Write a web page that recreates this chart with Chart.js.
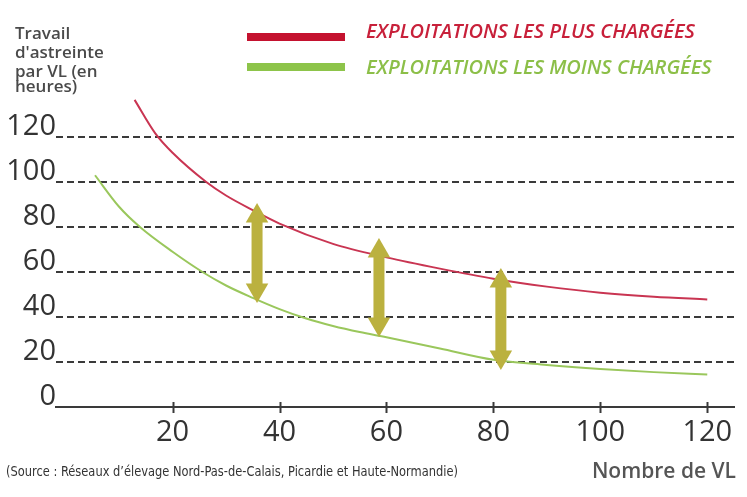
<!DOCTYPE html>
<html lang="fr">
<head>
<meta charset="UTF-8">
<title>Travail d'astreinte par VL</title>
<script src="https://cdn.jsdelivr.net/npm/chart.js"></script>
<style>
  html, body { margin: 0; padding: 0; background: #fff; }
  #wrap { width: 747px; height: 497px; }
</style>
</head>
<body>
<div id="wrap"><canvas id="graph"></canvas></div>
<script>
// courbes (x = nombre de VL, y = heures par VL)
const plusX  = [12.9, 16.8, 20, 26.3, 30, 35, 40, 50, 60, 70, 80, 90, 100, 110, 120];
const plusY  = [136.5, 121.5, 113, 100, 94, 87.5, 81.5, 72.5, 66.5, 61.5, 57, 53.5, 50.8, 49, 47.8];
const moinsX = [5.5, 10, 13.9, 20, 25.6, 30, 35, 40, 45, 50, 55, 60, 70, 80, 90, 100, 110, 120];
const moinsY = [103, 89, 80, 69, 60, 54, 48.5, 43.5, 39.3, 36, 33.3, 31, 26, 21, 18.7, 16.9, 15.5, 14.4];

// fleches doubles (ecart entre les deux groupes)
const flecheX    = [35.8, 58.6, 81.4];
const flecheHaut = [84.9, 69.3, 56];
const flecheBas  = [52, 36.9, 22.2];

const xTicks = [20, 40, 60, 80, 100, 120];
const yTicks = [0, 20, 40, 60, 80, 100, 120];

const labelPlus  = 'EXPLOITATIONS LES PLUS CHARGÉES';
const labelMoins = 'EXPLOITATIONS LES MOINS CHARGÉES';
const titreY = ['Travail', "d'astreinte", 'par VL (en', 'heures)'];
const titreX = 'Nombre de VL';
const source = '(Source : Réseaux d’élevage Nord-Pas-de-Calais, Picardie et Haute-Normandie)';

const rouge = '#c93552';
const vert = '#9ac75c';
const kaki = '#bbb13f';

function pts(xs, ys) {
  return xs.map((x, i) => ({ x: x, y: ys[i] }));
}

let datasets = [
  { label: labelPlus, data: pts(plusX, plusY), borderColor: rouge, borderWidth: 2,
    showLine: true, pointRadius: 0, cubicInterpolationMode: 'monotone', order: 1 },
  { label: labelMoins, data: pts(moinsX, moinsY), borderColor: vert, borderWidth: 2,
    showLine: true, pointRadius: 0, cubicInterpolationMode: 'monotone', order: 1 }
];
flecheX.forEach((x, i) => {
  datasets.push({
    label: 'fleche' + i,
    data: [{ x: x, y: flecheHaut[i] }, { x: x, y: flecheBas[i] }],
    showLine: true,
    borderColor: kaki,
    borderWidth: 11,
    borderCapStyle: 'butt',
    pointStyle: 'triangle',
    pointRadius: 13,
    pointRotation: [0, 180],
    pointBackgroundColor: kaki,
    pointBorderWidth: 0,
    order: 0
  });
});

// legende, titres, graduations
const decor = {
  id: 'decor',
  afterDraw(chart) {
    const c = chart.ctx;
    const xs = chart.scales.x, ys = chart.scales.y;
    c.save();
    // petits traits de graduation qui croisent l'axe
    c.strokeStyle = '#3a3a3a';
    c.lineWidth = 2;
    xTicks.forEach(v => {
      const px = Math.round(xs.getPixelForValue(v)) + 0.5;
      c.beginPath();
      c.moveTo(px, ys.bottom - 5);
      c.lineTo(px, ys.bottom + 6);
      c.stroke();
    });

    // legende
    const d0 = chart.data.datasets[0], d1 = chart.data.datasets[1];
    c.lineWidth = 8;
    c.strokeStyle = '#c4122f';
    c.beginPath(); c.moveTo(247, 37); c.lineTo(345, 37); c.stroke();
    c.strokeStyle = '#8dc44a';
    c.beginPath(); c.moveTo(247, 67); c.lineTo(345, 67); c.stroke();
    c.textBaseline = 'middle';
    c.textAlign = 'left';
    c.font = 'italic 600 20px "Open Sans"';
    c.fillStyle = '#c8203a';
    c.fillText(d0.label, 366, 32, 347);
    c.fillStyle = '#8cbf48';
    c.fillText(d1.label, 366, 68, 366);

    // titre axe y
    c.textBaseline = 'alphabetic';
    c.fillStyle = '#4a4a4a';
    c.font = '600 17px "Open Sans"';
    const bases = [39, 58, 77, 92];
    titreY.forEach((t, i) => c.fillText(t, 15, bases[i]));

    // titre axe x et source
    c.font = '600 21px "Open Sans"';
    c.fillStyle = '#555';
    c.textAlign = 'right';
    c.fillText(titreX, 736, 478, 150);
    c.textAlign = 'left';
    c.fillStyle = '#333';
    c.font = '14px "DejaVu Sans Condensed"';
    c.fillText(source, 6, 476, 452);
    c.restore();
  }
};

const ctx = document.querySelector('#graph');
const graph = new Chart(ctx, {
  type: 'scatter',
  data: { datasets: datasets },
  options: {
    responsive: true,
    maintainAspectRatio: false,
    animation: false,
    events: [],
    layout: { padding: { left: 0, right: 10, top: 92, bottom: 50 } },
    plugins: { legend: { display: false }, tooltip: { enabled: false } },
    scales: {
      x: {
        type: 'linear',
        min: -1.8,
        max: 125,
        afterBuildTicks: s => { s.ticks = xTicks.map(v => ({ value: v })); },
        afterFit: s => { s.height = 40; },
        grid: { drawOnChartArea: false, drawTicks: false },
        border: { display: true, color: '#3a3a3a', width: 2 },
        ticks: { color: '#333', padding: 8, font: { family: 'Open Sans', size: 29 } }
      },
      y: {
        min: 0,
        max: 140,
        afterBuildTicks: s => { s.ticks = yTicks.map(v => ({ value: v })); },
        afterFit: s => { s.width = 56; },
        grid: {
          drawTicks: false,
          lineWidth: 2,
          color: c => (c.tick && c.tick.value === 0) ? 'rgba(0,0,0,0)' : '#3a3a3a'
        },
        border: { display: false, dash: [7, 4] },
        ticks: { color: '#333', padding: 0, labelOffset: -10, font: { family: 'Open Sans', size: 29 } }
      }
    }
  },
  plugins: [decor]
});
</script>
</body>
</html>
